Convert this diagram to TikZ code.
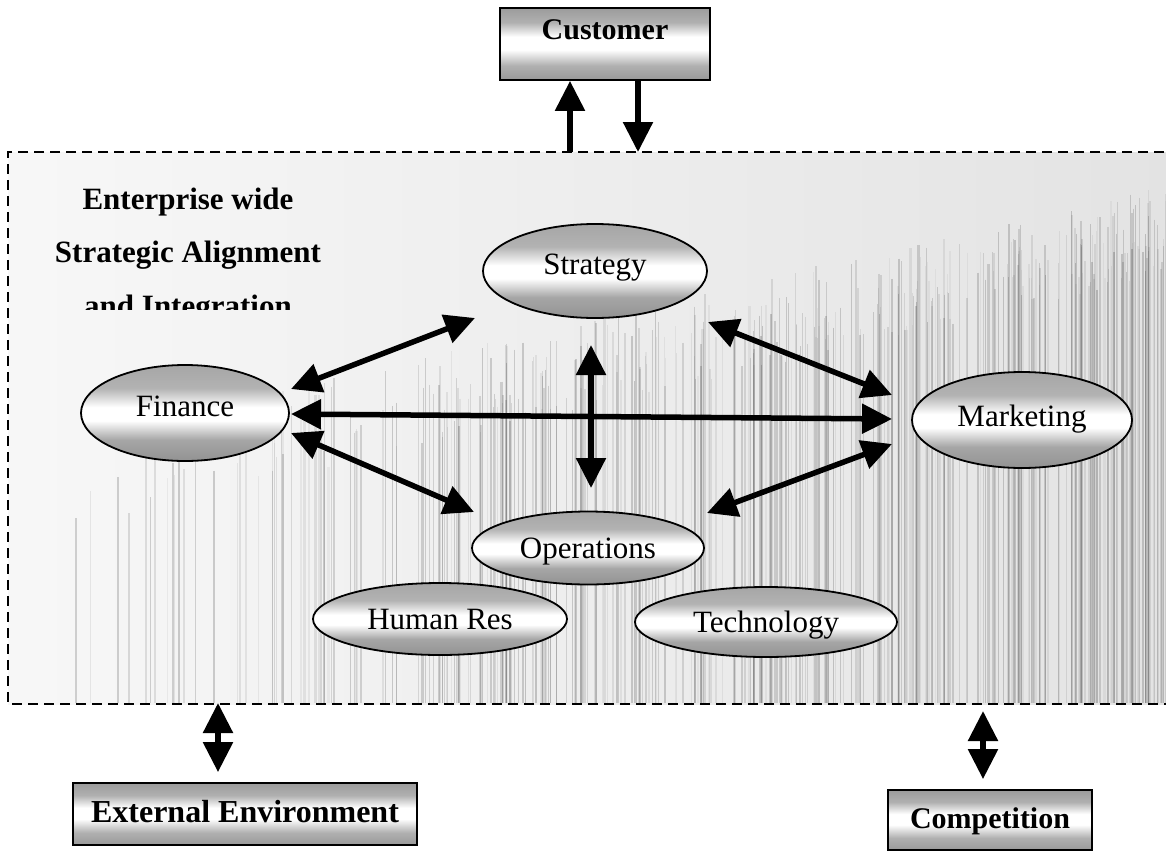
\documentclass[tikz,border=0pt]{standalone}
\usepackage{fontspec}
\setmainfont{Liberation Serif}
\usetikzlibrary{shapes.geometric,arrows.meta,calc}

% grey bands above and below a pale middle strip
\pgfdeclareverticalshading{ovalbands}{100bp}{%
  color(0bp)=(gray!85); color(25bp)=(gray!85); color(36bp)=(gray!70);
  color(46bp)=(white); color(53bp)=(white); color(63bp)=(gray!60);
  color(75bp)=(gray!70); color(100bp)=(gray!70)}
\pgfdeclareverticalshading{panelbands}{100bp}{%
  color(0bp)=(gray!80); color(25bp)=(gray!80); color(35bp)=(gray!62);
  color(46bp)=(white); color(55bp)=(white); color(65bp)=(gray!62);
  color(75bp)=(gray!78); color(100bp)=(gray!78)}

\begin{document}
\begin{tikzpicture}[x=1pt,y=-1pt,
  oval/.style={ellipse, draw, line width=1.8pt, inner sep=0pt, shading=ovalbands,
    font=\fontsize{31}{36}\selectfont, text height=21pt, text depth=0pt},
  ovalhigh/.style={oval, text depth=15pt},
  panel/.style={rectangle, draw, line width=1.8pt, inner sep=0pt, shading=panelbands,
    font=\bfseries\fontsize{30}{34}\selectfont, text height=20pt, text depth=4pt},
  headline/.style={anchor=base, font=\bfseries\fontsize{31}{36}\selectfont, inner sep=0pt},
  dbl/.style={line width=5.5pt, {Triangle[width=29pt,length=30pt]}-{Triangle[width=29pt,length=30pt]}},
  one/.style={line width=5.5pt, -{Triangle[width=29pt,length=30pt]}},
  frameline/.style={line width=2.2pt, dash pattern=on 10pt off 6pt}
]
\useasboundingbox (0,0) rectangle (1166,851);
\fill[white] (0,0) rectangle (1166,851);
\clip (0,0) rectangle (1166,851);

% enterprise area: pale grey ground with vertical scan streaks
\shade[left color=gray!6, right color=gray!22] (8,152) rectangle (1180,704);
\begin{scope}
  \clip (9,153) rectangle (1180,703);
  \pgfmathsetseed{4242}
  \foreach \k in {1,...,420}{
    \pgfmathsetmacro{\sx}{30+1136*sqrt(rnd)}
    \pgfmathsetmacro{\sy}{185+270*(1-\sx/1166)+90*rnd}
    \pgfmathsetmacro{\so}{0.04+0.14*rnd}
    \pgfmathsetmacro{\sw}{0.5+1.8*rnd}
    \draw[black, opacity=\so, line width=\sw pt] (\sx,\sy) -- (\sx,703);
  }
\end{scope}
\draw[frameline] (1180,152) -- (8,152) -- (8,704) -- (1180,704);

% title of the enterprise area (last line runs under the panel edge)
\node[headline] (head1) at (188,209) {Enterprise wide};
\node[headline] (head2) at (188,262) {Strategic Alignment};
\begin{scope}
  \clip (0,290) rectangle (420,309);
  \node[headline] (head3) at (188,316) {and Integration};
\end{scope}

% functions of the enterprise
\node[ovalhigh, minimum width=224pt, minimum height=94pt] (str) at (595,271) {Strategy};
\node[ovalhigh, minimum width=208pt, minimum height=96pt] (fin) at (185,413) {Finance};
\node[oval, text depth=9pt, minimum width=220pt, minimum height=96pt] (mkt) at (1022,420) {Marketing};
\node[oval, minimum width=232pt, minimum height=73pt] (ops) at (588,548) {Operations};
\node[oval, minimum width=254pt, minimum height=72pt] (hr) at (440,619) {Human Res};
\node[oval, minimum width=262pt, minimum height=70pt] (tech) at (766,622) {Technology};

% links between the functions
\draw[dbl] ($(fin)+(106,-24)$) -- ($(str)+(-120,47)$);
\draw[dbl] ($(fin)+(106,1)$) -- ($(mkt)+(-130,-1)$);
\draw[dbl] ($(fin)+(106,20)$) -- ($(ops)+(-114,-36)$);
\draw[dbl] ($(str)+(-4,74)$) -- ($(ops)+(3,-60)$);
\draw[dbl] ($(str)+(113,51)$) -- ($(mkt)+(-130,-25)$);
\draw[dbl] ($(mkt)+(-130,24)$) -- ($(ops)+(119,-35)$);

% outside parties
\node[panel, minimum width=210pt, minimum height=72pt, text depth=28pt] (cust) at (605,44) {Customer};
\node[panel, minimum width=344pt, minimum height=62pt, font=\bfseries\fontsize{32}{36}\selectfont] (env) at (245,814) {External Environment};
\node[panel, minimum width=204pt, minimum height=60pt] (comp) at (990,820) {Competition};

% exchanges across the enterprise boundary
\coordinate (custout) at (570,152);
\coordinate (custin) at (638,152);
\coordinate (envgate) at (218,703);
\coordinate (compgate) at (983,711);
\draw[one] (custout) -- (custout |- cust.south);
\draw[one] (custin |- cust.south) -- (custin);
\draw[dbl] (envgate) -- ($(envgate |- env.north)+(0,-10)$);
\draw[dbl] (compgate) -- ($(compgate |- comp.north)+(0,-10)$);
\end{tikzpicture}
\end{document}
